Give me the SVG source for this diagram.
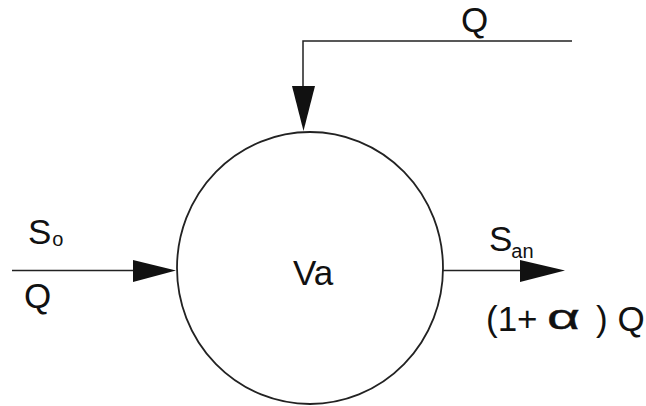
<svg xmlns="http://www.w3.org/2000/svg" width="646" height="406" viewBox="0 0 646 406">
<style>
  .ln { stroke: #222; stroke-width: 1.5; fill: none; }
  .ah { fill: #111; stroke: none; }
  .t { font-family: "Liberation Sans", Arial, sans-serif; fill: #111; font-size: 35px; }
  .sub { font-size: 20px; }
</style>
<rect width="646" height="406" fill="#ffffff"/>
<g id="node-Va">
  <ellipse cx="310" cy="268" rx="133" ry="136" fill="none" stroke="#222" stroke-width="1.8"/>
  <text class="t" x="293" y="285">Va</text>
</g>
<g id="connectors">
  <g id="inflow-left">
    <line class="ln" x1="12" y1="270.5" x2="140" y2="270.5"/>
    <polygon class="ah" points="133,260 176,270.5 133,282"/>
  </g>
  <g id="inflow-top">
    <polyline class="ln" points="572,41 303,41 303,92"/>
    <polygon class="ah" points="292,86 315,86 303.5,131"/>
  </g>
  <g id="outflow-right">
    <line class="ln" x1="443" y1="270.5" x2="525" y2="270.5"/>
    <polygon class="ah" points="520,260 565,270.5 520,282"/>
  </g>
</g>
<g id="labels">
  <text class="t" x="461" y="32">Q</text>
  <text class="t" x="28" y="244">S<tspan class="sub" dx="1" dy="2">o</tspan></text>
  <text class="t" x="24" y="308">Q</text>
  <text class="t" x="489" y="251">S<tspan class="sub" dx="-1" dy="7">an</tspan></text>
  <text class="t" x="486" y="331">(1+</text>
  <text class="t" x="547" y="329" font-size="38" stroke="#111" stroke-width="0.4" textLength="33" lengthAdjust="spacingAndGlyphs">α</text>
  <text class="t" x="596" y="331">) Q</text>
</g>
</svg>
